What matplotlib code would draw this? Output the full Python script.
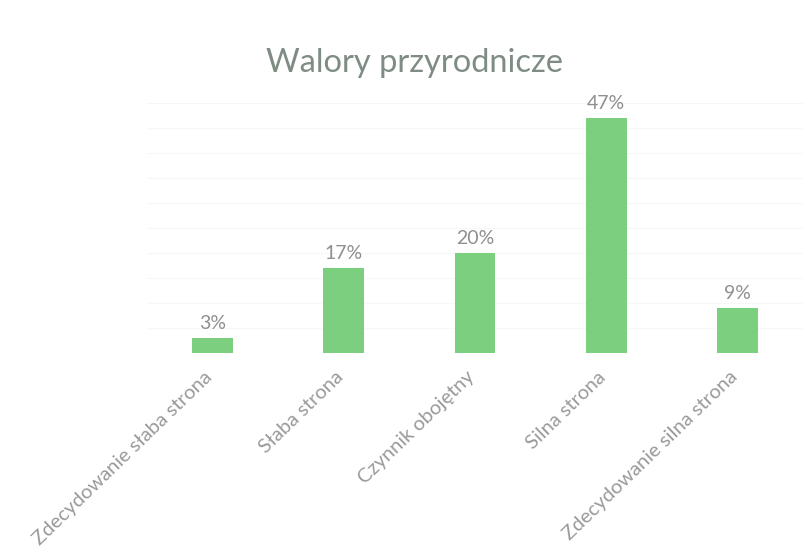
import matplotlib
matplotlib.use("Agg")
import matplotlib.pyplot as plt
from matplotlib.transforms import ScaledTranslation

categories = [
    "Zdecydowanie słaba strona",
    "Słaba strona",
    "Czynnik obojętny",
    "Silna strona",
    "Zdecydowanie silna strona",
]
values = [3, 17, 20, 47, 9]
title = "Walory przyrodnicze"

plt.rcParams["font.family"] = ["Lato", "DejaVu Sans"]

fig = plt.figure(figsize=(8.04, 5.58), dpi=100)
fig.patch.set_facecolor("white")

# plot area: x from ~147px to ~803px, y baseline at 353px, top (50%) at 103px
ax = fig.add_axes([147 / 804, 1 - 353 / 558, 656 / 804, 250 / 558])
ax.set_facecolor("white")

x = list(range(len(categories)))
ax.bar(x, values, width=0.31, color="#7bcf7e", edgecolor="none", zorder=3)

for xi, v in zip(x, values):
    ax.text(xi, v + 1.2, f"{v}%", ha="center", va="bottom",
            fontsize=14, color="#8f8f8f")

ax.set_xlim(-0.5, len(categories) - 0.5)
ax.set_ylim(0, 50)
ax.set_yticks(range(0, 51, 5))
ax.yaxis.grid(True, color="#f7f7f7", linewidth=0.8, zorder=0)
ax.tick_params(axis="y", left=False, labelleft=False)
ax.tick_params(axis="x", length=0, pad=11)
ax.set_xticks(x)
ax.set_xticklabels(categories, rotation=44, ha="right", va="top",
                   rotation_mode="anchor", fontsize=14.5, color="#9a9a9a")
shift = ScaledTranslation(-9 / 100, 0, fig.dpi_scale_trans)
for lbl in ax.get_xticklabels():
    lbl.set_transform(lbl.get_transform() + shift)
for s in ax.spines.values():
    s.set_visible(False)

fig.text(414 / 804, 1 - 63 / 558, title, ha="center", va="center",
         fontsize=23.5, color="#7f8c84")

fig.savefig("out.png", dpi=100, facecolor="white")
